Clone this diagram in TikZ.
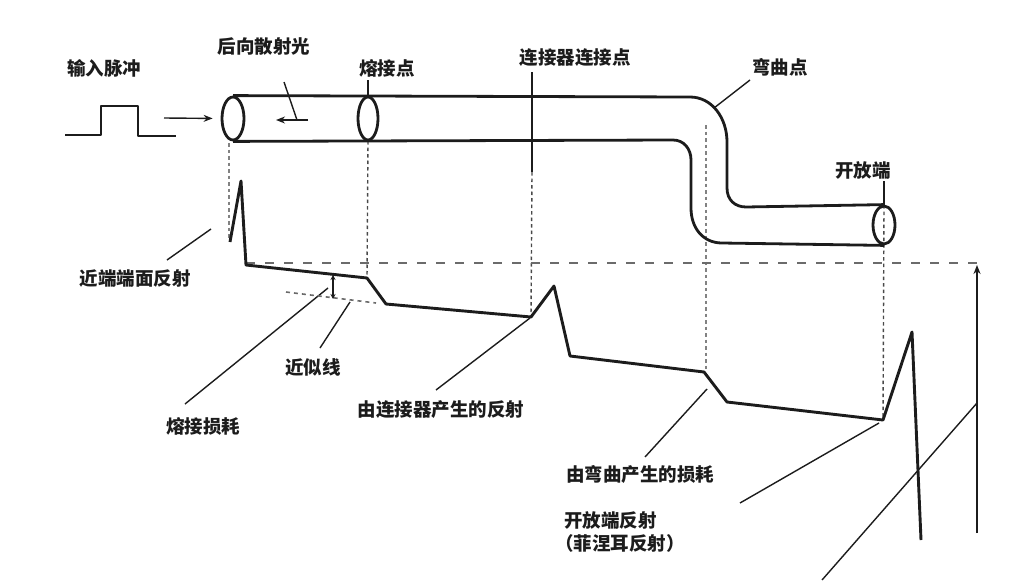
\documentclass[tikz,border=0pt]{standalone}
\usepackage{fontspec}
\newfontfamily\cjk{Noto Sans CJK SC}
\usetikzlibrary{arrows.meta,shapes.geometric}
\definecolor{ink}{HTML}{1C1C1C}
\tikzset{
  lbl/.style={font=\cjk\bfseries\fontsize{18.5}{22}\selectfont,text=ink,inner sep=0pt,align=left},
  fibre/.style={draw=ink,line width=2.8pt,line join=round},
  endface/.style={draw=ink,line width=2.8pt,ellipse,inner sep=0pt},
  trace/.style={draw=ink,line width=2.9pt,line join=round},
  leader/.style={draw=ink,line width=1.4pt},
  dots/.style={draw=ink!80,line width=1.4pt,dash pattern=on 3.5pt off 3pt},
  wideDots/.style={draw=ink!55,line width=2.6pt,dash pattern=on 3.5pt off 3pt},
  longdash/.style={draw=ink!65,line width=2pt,dash pattern=on 9pt off 10pt},
  approx/.style={draw=ink!65,line width=1.6pt,dash pattern=on 4pt off 4pt},
  arr/.style={draw=ink,line width=1.4pt,-{Stealth[length=9pt,width=7pt]}}
}
\begin{document}
\begin{tikzpicture}[x=1pt,y=-1pt]
\useasboundingbox (0,0) rectangle (1024,581);
% labels
\node[lbl] (tIn) at (104,68) {输入脉冲};
\node[lbl] (tBack) at (264,46) {后向散射光};
\node[lbl] (tSplice) at (387,68) {熔接点};
\node[lbl] (tConn) at (575,58) {连接器连接点};
\node[lbl] (tBend) at (780,67) {弯曲点};
\node[lbl] (tOpen) at (863,170) {开放端};
\node[lbl] (tNear) at (135,278) {近端端面反射};
\node[lbl] (tApprox) at (313,367) {近似线};
\node[lbl] (tSL) at (203,426) {熔接损耗};
\node[lbl] (tCR) at (441,410) {由连接器产生的反射};
\node[lbl] (tBL) at (640,474) {由弯曲产生的损耗};
\node[lbl,anchor=west] (tOR) at (564,520) {开放端反射};
\node[lbl,anchor=west] (tFR) at (555,543) {（菲涅耳反射）};
% trace points
\coordinate (t0) at (230,242);
\coordinate (t1) at (241,181);
\coordinate (t2) at (246,265);
\coordinate (t3) at (367,278);
\coordinate (t4) at (386,304);
\coordinate (t5) at (531,317);
\coordinate (t6) at (554,286);
\coordinate (t7) at (570,356);
\coordinate (t8) at (704,372);
\coordinate (t9) at (727,402);
\coordinate (t10) at (883,420);
\coordinate (t11) at (912,332);
\coordinate (t12) at (921,540);
% dotted drop lines
\coordinate (d1a) at (229,143);
\coordinate (d1b) at (229,240);
\coordinate (d2a) at (368,141);
\coordinate (d3a) at (532,172);
\coordinate (d4a) at (706,125);
\coordinate (d4b) at (706,372);
\coordinate (d5a) at (884,205);
\draw[wideDots] (d1a) -- (d1b);
\draw[dots] (d2a) -- (t3);
\draw[dots] (d3a) -- (t5);
\draw[wideDots] (d4a) -- (d4b);
\draw[dots] (d5a) -- (t10);
% fibre
\node[endface,minimum width=22pt,minimum height=43pt] (end1) at (233,118.5) {};
\node[endface,minimum width=20pt,minimum height=43pt] (end2) at (368,118.5) {};
\node[endface,minimum width=22pt,minimum height=38pt] (end3) at (884,225) {};
\draw[fibre] (end1.north) -- (690,97) .. controls (712,97) and (727,118) .. (727,142) -- (727,188) .. controls (727,200) and (735,207) .. (746,207) -- (end3.north);
\draw[fibre] (end1.south) -- (673,140) .. controls (684,140) and (691,149) .. (691,160) -- (691,208) .. controls (691,228) and (703,243) .. (722,243) -- (end3.south);
% pulse
\coordinate (p0) at (65,135);
\coordinate (p1) at (101,135);
\coordinate (p2) at (101,106);
\coordinate (p3) at (138,106);
\coordinate (p4) at (138,136);
\coordinate (p5) at (176,136);
\draw[fibre] (p0) -- (p1) -- (p2) -- (p3) -- (p4) -- (p5);
\coordinate (inA) at (164,118);
\draw[arr,shorten >=8pt] (inA) -- (end1.west);
% backscatter
\coordinate (bA) at (284,82);
\coordinate (bB) at (297,120);
\coordinate (bC) at (308,120);
\coordinate (bD) at (276,120);
\draw[leader] (bA) -- (bB);
\draw[arr] (bC) -- (bD);
% label leaders
\coordinate (lS) at (368,80);
\draw[leader] (lS) -- (end2.north);
\coordinate (lC0) at (532,72);
\draw[leader] (lC0) -- (d3a);
\coordinate (lB0) at (750,80);
\coordinate (lB1) at (714,108);
\draw[leader] (lB0) -- (lB1);
\coordinate (lO0) at (884,181);
\draw[leader] (lO0) -- (d5a);
\coordinate (lN0) at (167,260);
\coordinate (lN1) at (211,229);
\draw[leader] (lN0) -- (lN1);
\coordinate (lSa) at (185,404);
\coordinate (lSb) at (328,288);
\draw[leader] (lSa) -- (lSb);
\coordinate (lAa) at (320,348);
\coordinate (lAb) at (350,302);
\draw[leader] (lAa) -- (lAb);
\coordinate (lCa) at (436,390);
\coordinate (lCb) at (530,318);
\draw[leader] (lCa) -- (lCb);
\coordinate (lBa) at (645,457);
\coordinate (lBb) at (707,389);
\draw[leader] (lBa) -- (lBb);
\coordinate (lRa) at (740,503);
\coordinate (lRb) at (879,423);
\draw[leader] (lRa) -- (lRb);
% reference level and height
\coordinate (hA) at (246,263);
\coordinate (hB) at (977,263);
\coordinate (hC) at (977,533);
\coordinate (hD) at (977,265);
\coordinate (dgA) at (822,580);
\coordinate (dgB) at (977,403);
\draw[longdash] (hA) -- (hB);
\draw[arr] (hC) -- (hD);
\draw[leader] (dgA) -- (dgB);
% approximation line
\coordinate (apA) at (286,292);
\coordinate (apB) at (376,303);
\draw[approx] (apA) -- (apB);
\coordinate (sA) at (333,275);
\coordinate (sB) at (333,299);
\draw[draw=ink,line width=1.8pt,{Stealth[length=5pt,width=5pt]}-{Stealth[length=5pt,width=5pt]}] (sA) -- (sB);
% trace
\draw[trace] (t0) -- (t1) -- (t2) -- (t3) -- (t4) -- (t5) -- (t6) -- (t7) -- (t8) -- (t9) -- (t10) -- (t11) -- (t12);
\end{tikzpicture}
\end{document}
